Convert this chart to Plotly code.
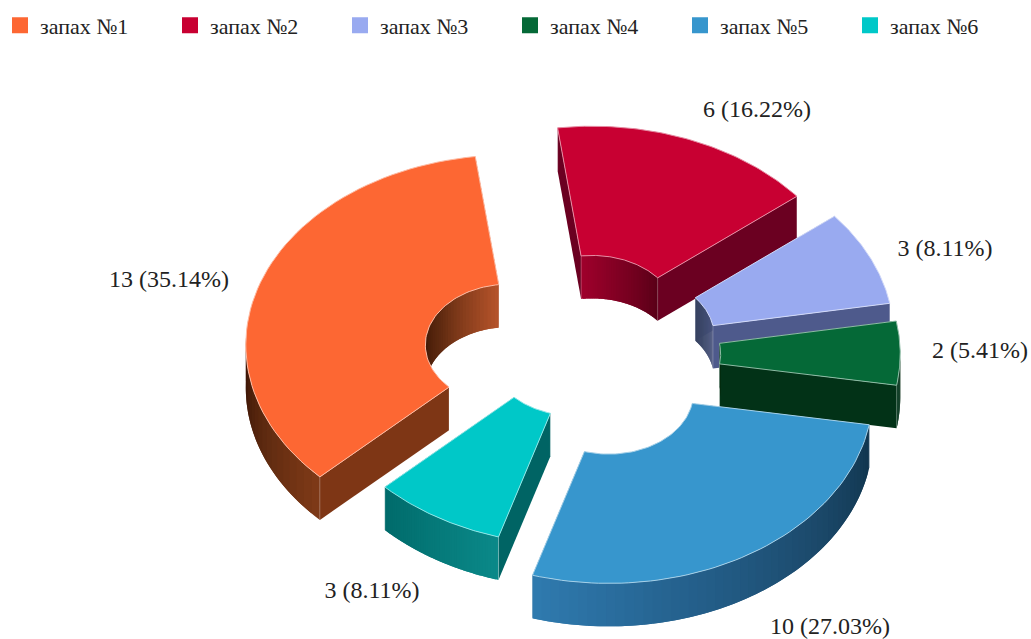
import math
import plotly.graph_objects as go

# ---- data ----
names = ["запах №1", "запах №2", "запах №3", "запах №4", "запах №5", "запах №6"]
values = [13, 6, 3, 2, 10, 3]

# ---- style ----
top_colors = ["#FD6733", "#C80032", "#99AAF0", "#056937", "#3796CD", "#00C8C8"]
radial_colors = ["#7E3615", "#6B0021", "#4E5A8C", "#023217", "#1D5A85", "#006464"]
# (angle, colour) stops for the walls; angles in degrees, clockwise from +x on screen
outer_stops = [
    [(136, "#7F3A17"), (158, "#5E2A10"), (180, "#3A1405")],
    [(0, "#5A0018"), (180, "#5A0018")],
    [(0, "#4E5A8C"), (180, "#4E5A8C")],
    [(0, "#022A14"), (9, "#02351A")],
    [(9, "#10354E"), (40, "#1C4A6C"), (75, "#25628F"), (106, "#2F7AAE")],
    [(106, "#0B8A8A"), (136, "#006A6A")],
]
inner_stops = [
    [(180, "#3A1405"), (215, "#5E2A10"), (262, "#B5532A")],
    [(262, "#A0002C"), (320, "#5A0018")],
    [(320, "#36415F"), (349, "#4A5680")],
    [(349, "#02351A"), (360, "#02351A")],
    [(180, "#103050"), (360, "#103050")],
    [(180, "#006464"), (360, "#006464")],
]
pulls = [1.0, 1.0, 0.95, 0.93, 1.0, -0.08]
nudges = [(1, -1), (-6, -4), (-2, -7), (0, -6), (0, -3), (-1, -2)]
draw_order = [1, 2, 3, 0, 5, 4]
label_xy = [(169, 281), (757, 111), (945, 250), (980, 352), (830, 628), (372, 592)]

CX, CY = 573, 360
RX, RY = 264, 190
HOLE = 0.32
DEPTH = 43
EXPX, EXPY = 68, 42.8
START = 136.0
FONT = "Liberation Serif"


def hex2rgb(h):
    return tuple(int(h[i:i + 2], 16) for i in (1, 3, 5))


def ramp(stops, a):
    if a <= stops[0][0]:
        return stops[0][1]
    for (a0, c0), (a1, c1) in zip(stops, stops[1:]):
        if a <= a1:
            t = (a - a0) / (a1 - a0)
            r0, r1 = hex2rgb(c0), hex2rgb(c1)
            return "rgb(%d,%d,%d)" % tuple(round(x + (y - x) * t) for x, y in zip(r0, r1))
    return stops[-1][1]


def pt(ax, ay, a, r):
    return ax + RX * r * math.cos(math.radians(a)), ay + RY * r * math.sin(math.radians(a))


def poly(fig, pts, fill, line=None, width=0.0):
    xs = [p[0] for p in pts] + [pts[0][0]]
    ys = [p[1] for p in pts] + [pts[0][1]]
    if line:
        fig.add_trace(go.Scatter(x=xs, y=ys, mode="lines", fill="toself", fillcolor=fill,
                                 line=dict(color=line, width=width),
                                 hoverinfo="skip", showlegend=False))
    else:
        fig.add_trace(go.Scatter(x=xs, y=ys, mode="none", fill="toself", fillcolor=fill,
                                 hoverinfo="skip", showlegend=False))


def wall(fig, ax, ay, a0, a1, r, stops, lo, hi, n=48):
    """Draw a shaded curved wall between a0 and a1 as overlapping strips."""
    step = (a1 - a0) / n
    for k in range(n):
        u0 = a0 + step * k
        um = (u0 + step / 2) % 360
        if lo < um < hi:
            u1 = min(u0 + step * 2.0, a1)
            pts = [pt(ax, ay, u0 + (u1 - u0) * j / 3, r) for j in range(4)]
            pts = pts + [(x, y + DEPTH) for x, y in reversed(pts)]
            poly(fig, pts, ramp(stops, um))


fig = go.Figure()
total = sum(values)
spans = []
a = START
for v in values:
    spans.append((a, a + v / total * 360))
    a += v / total * 360

for i in draw_order:
    a0, a1 = spans[i]
    mid = math.radians((a0 + a1) / 2)
    ax = CX + pulls[i] * EXPX * math.cos(mid) + nudges[i][0]
    ay = CY + pulls[i] * EXPY * math.sin(mid) + nudges[i][1]
    # radial walls
    for e in (a0, a1):
        p, q = pt(ax, ay, e, HOLE), pt(ax, ay, e, 1)
        poly(fig, [p, q, (q[0], q[1] + DEPTH), (p[0], p[1] + DEPTH)], radial_colors[i])
    # inner wall (faces the viewer only at the back of the hole), then outer wall (front half)
    wall(fig, ax, ay, a0, a1, HOLE, inner_stops[i], 180, 360)
    wall(fig, ax, ay, a0, a1, 1, outer_stops[i], 0, 180)
    # faint vertical highlight on the wall corners
    for e in (a0, a1):
        for r in (HOLE, 1):
            x0, y0 = pt(ax, ay, e, r)
            fig.add_trace(go.Scatter(x=[x0, x0], y=[y0, y0 + DEPTH], mode="lines",
                                     line=dict(color="rgba(255,255,255,0.22)", width=1),
                                     hoverinfo="skip", showlegend=False))
    # top face
    m = 60
    outer = [pt(ax, ay, a0 + (a1 - a0) * k / m, 1) for k in range(m + 1)]
    inner = [pt(ax, ay, a1 - (a1 - a0) * k / m, HOLE) for k in range(m + 1)]
    c = hex2rgb(top_colors[i])
    edge = "rgb(%d,%d,%d)" % tuple(round(x + (255 - x) * 0.55) for x in c)
    poly(fig, outer + inner, top_colors[i], line=edge, width=1)

# value labels
label_text = ["%d (%.2f%%)" % (v, v / total * 100) for v in values]
fig.add_trace(go.Scatter(x=[p[0] for p in label_xy], y=[p[1] for p in label_xy], mode="text",
                         text=label_text, textposition="middle center",
                         textfont=dict(family=FONT, size=24, color="#222222"),
                         hoverinfo="skip", showlegend=False, cliponaxis=False))

# legend entries
for name, col in zip(names, top_colors):
    fig.add_trace(go.Scatter(x=[None], y=[None], mode="markers", name=name,
                             marker=dict(symbol="square", size=16, color=col)))

fig.update_layout(
    width=1031, height=639, margin=dict(l=0, r=0, t=0, b=0),
    paper_bgcolor="white", plot_bgcolor="white",
    xaxis=dict(range=[0, 1031], visible=False, fixedrange=True),
    yaxis=dict(range=[639, 0], visible=False, fixedrange=True),
    legend=dict(orientation="h", x=0, y=0.993, xanchor="left", yanchor="top",
                entrywidth=125, entrywidthmode="pixels", itemwidth=30,
                font=dict(family=FONT, size=22, color="#222222"),
                bgcolor="rgba(0,0,0,0)", traceorder="normal"),
)
fig.write_html("out.html", config={"displayModeBar": False},
               post_script="document.body.style.margin='0';document.documentElement.style.overflow='hidden';")
